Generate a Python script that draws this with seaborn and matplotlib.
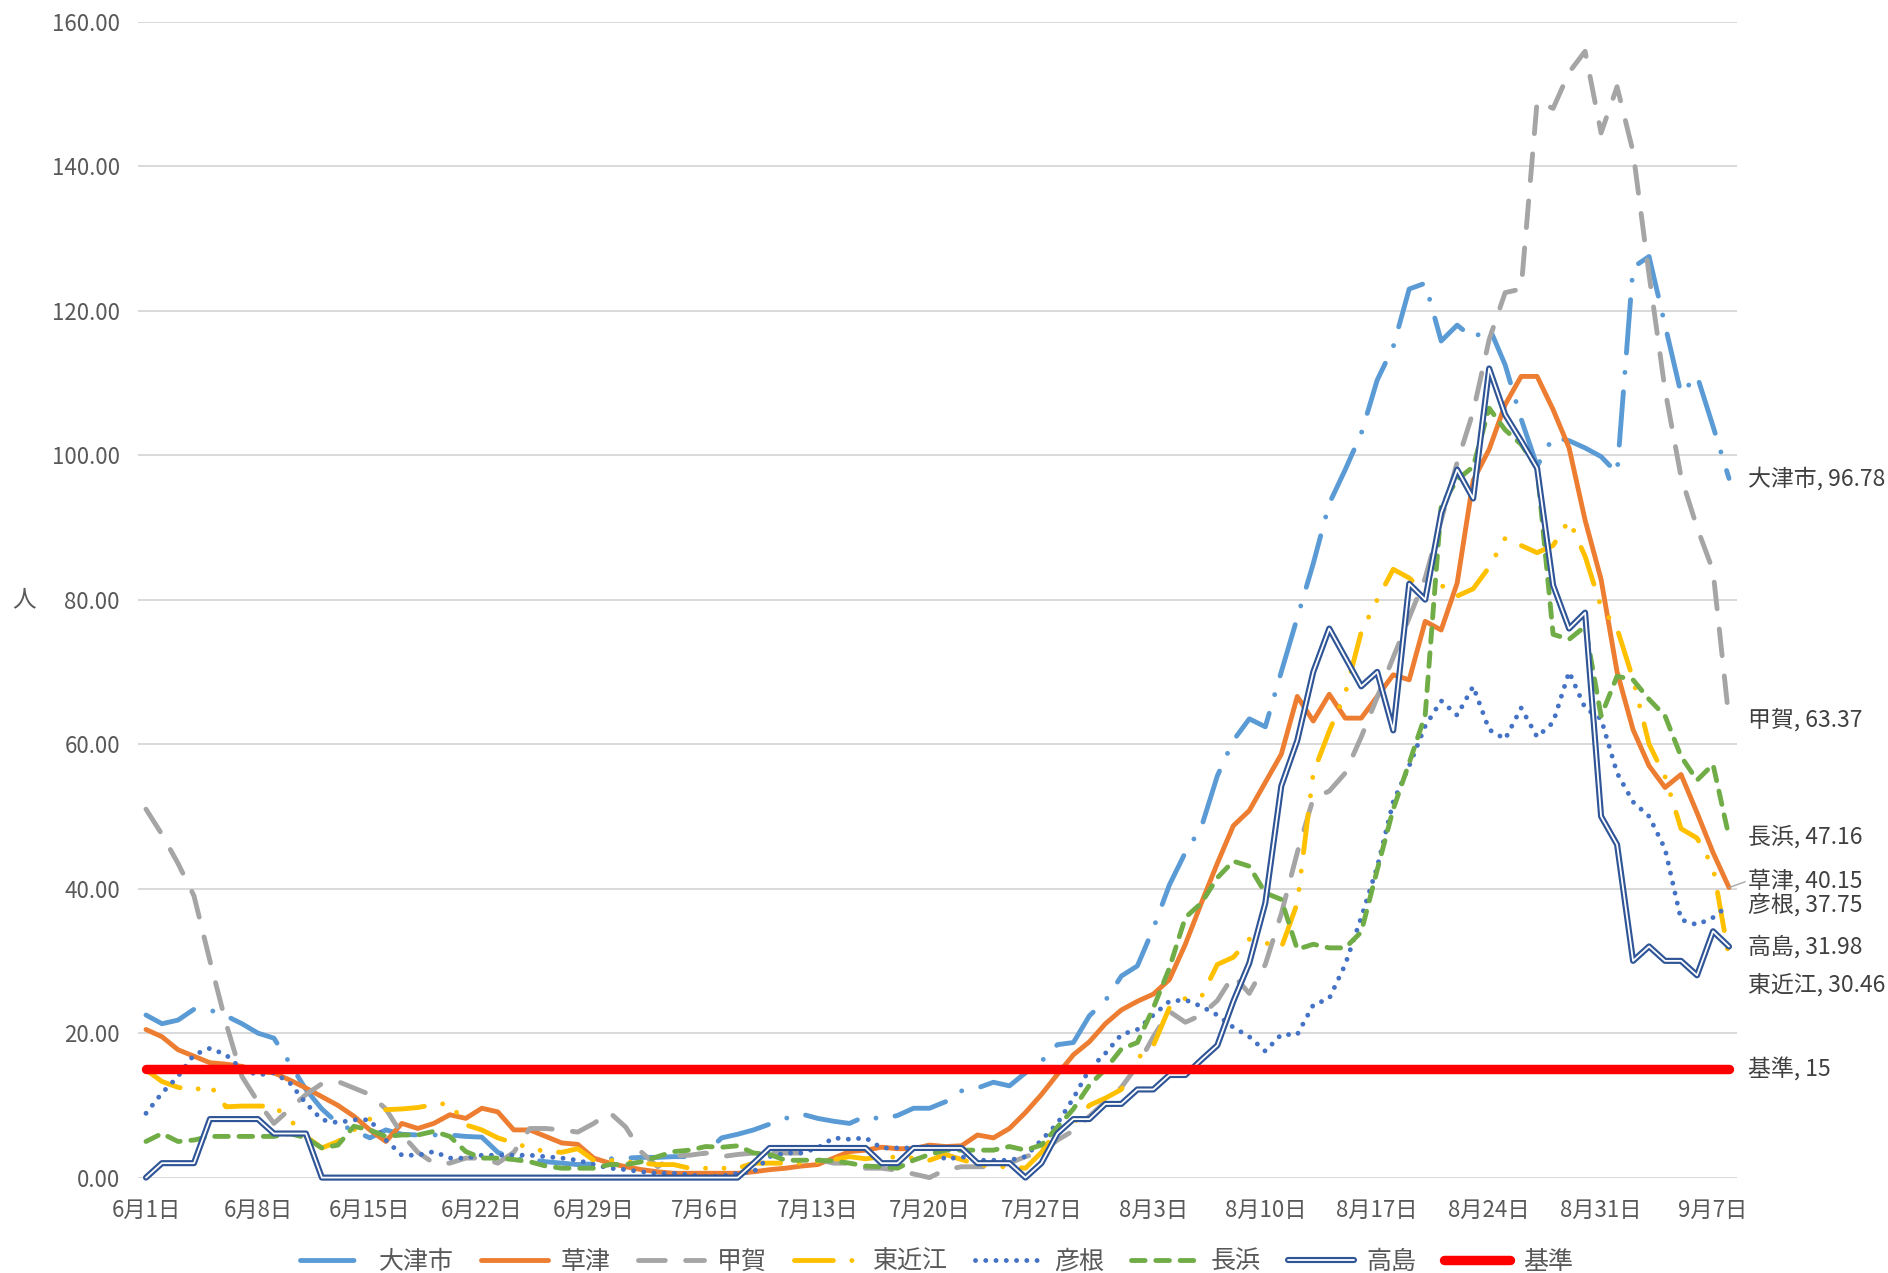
import pandas as pd
import matplotlib
matplotlib.use("Agg")
import matplotlib.pyplot as plt
import matplotlib.patheffects as pe
import seaborn as sns

# --- data (人口10万人あたり直近1週間の新規陽性者数, 6/1 - 9/8) ---
dates = pd.date_range("2021-06-01", "2021-09-08", freq="D")
tick_labels = ["6月1日", "6月8日", "6月15日", "6月22日", "6月29日", "7月6日", "7月13日",
               "7月20日", "7月27日", "8月3日", "8月10日", "8月17日", "8月24日", "8月31日", "9月7日"]

otsu = [22.5, 21.3, 21.8, 23.3, 23.2, 22.4, 21.3, 20.0, 19.3, 15.8,
        12.2, 9.5, 7.5, 6.5, 5.5, 6.6, 6.0, 5.9, 5.9, 5.9,
        5.7, 5.6, 3.5, 2.6, 2.5, 2.2, 2.0, 1.8, 1.9, 2.6,
        2.7, 2.8, 2.8, 2.9, 2.9, 3.4, 5.5, 6.0, 6.6, 7.4,
        8.2, 8.8, 8.2, 7.8, 7.5, 8.5, 8.1, 8.6, 9.6, 9.6,
        10.5, 12.0, 12.4, 13.2, 12.7, 14.5, 16.1, 18.4, 18.7, 22.4,
        24.5, 27.9, 29.3, 34.5, 40.5, 45.0, 48.5, 55.6, 60.5, 63.5,
        62.4, 70.0, 77.5, 85.0, 93.3, 98.0, 103.0, 110.4, 115.0, 123.0,
        123.8, 115.8, 118.0, 116.2, 117.7, 112.5, 105.0, 98.5, 102.5, 102.0,
        101.0, 99.8, 97.5, 126.0, 127.5, 118.0, 108.5, 111.0, 104.0, 96.78]

kusatsu = [20.5, 19.5, 17.7, 16.8, 15.9, 15.7, 15.4, 14.7, 14.5, 13.5,
           12.4, 11.2, 10.0, 8.5, 6.6, 5.0, 7.5, 6.8, 7.5, 8.7,
           8.2, 9.6, 9.1, 6.6, 6.6, 5.7, 4.8, 4.6, 2.7, 2.0,
           1.5, 1.1, 0.8, 0.6, 0.6, 0.6, 0.6, 0.6, 0.8, 1.1,
           1.3, 1.6, 1.8, 2.7, 3.6, 3.8, 4.2, 4.0, 4.0, 4.5,
           4.3, 4.4, 5.9, 5.5, 6.8, 9.0, 11.5, 14.3, 17.0, 18.8,
           21.3, 23.2, 24.4, 25.4, 27.4, 32.3, 38.0, 43.5, 48.7, 50.8,
           54.7, 58.6, 66.6, 63.2, 66.9, 63.6, 63.6, 66.6, 69.6, 68.9,
           77.0, 75.8, 82.3, 96.5, 100.8, 107.0, 110.9, 110.9, 106.3, 101.0,
           91.0, 82.8, 70.0, 62.0, 57.0, 54.0, 55.8, 50.5, 45.0, 40.15]

koka = [51.0, 47.5, 43.5, 39.0, 30.0, 21.4, 14.0, 10.5, 7.5, 9.5,
        11.5, 13.0, 13.3, 12.4, 11.5, 9.5, 6.0, 3.5, 2.0, 2.0,
        2.7, 2.7, 2.0, 3.5, 6.8, 6.8, 6.6, 6.3, 7.5, 9.0,
        7.0, 3.5, 1.5, 3.0, 3.1, 3.4, 2.9, 3.2, 3.4, 3.4,
        3.4, 3.4, 2.5, 2.0, 2.0, 1.3, 1.3, 1.0, 0.5, 0.0,
        1.1, 1.5, 1.5, 1.5, 2.0, 2.9, 3.5, 5.2, 6.5, 8.5,
        10.5, 12.5, 15.5, 19.5, 23.0, 21.5, 22.5, 24.5, 28.0, 25.5,
        29.5, 36.5, 45.0, 52.5, 53.5, 56.0, 61.0, 66.5, 72.0, 77.5,
        83.0, 91.0, 99.0, 106.0, 116.0, 122.5, 123.0, 149.0, 148.0, 153.0,
        155.9, 144.6, 151.0, 142.0, 125.0, 109.0, 97.0, 90.0, 84.0, 63.37]

higashiomi = [14.9, 13.3, 12.5, 12.1, 12.8, 9.8, 9.9, 9.9, 9.9, 8.0,
              5.7, 4.1, 5.0, 6.6, 8.1, 9.4, 9.5, 9.7, 10.1, 10.3,
              7.3, 6.6, 5.5, 4.8, 4.1, 3.6, 3.5, 4.0, 2.4, 2.4,
              2.2, 2.0, 1.8, 1.8, 1.3, 1.3, 1.3, 1.3, 2.0, 2.0,
              2.0, 2.0, 2.2, 2.5, 2.9, 2.6, 2.9, 2.8, 2.7, 2.4,
              3.2, 2.5, 1.8, 1.5, 1.5, 1.3, 3.5, 6.7, 7.5, 10.0,
              11.0, 12.2, 16.5, 18.3, 23.5, 24.8, 25.0, 29.5, 30.5, 33.0,
              32.5, 31.8, 38.0, 56.0, 61.8, 67.0, 75.5, 80.0, 84.2, 83.0,
              81.0, 82.0, 80.5, 81.5, 84.5, 88.5, 87.5, 86.5, 87.5, 91.0,
              86.0, 79.0, 76.0, 69.0, 60.0, 55.5, 48.3, 47.0, 43.0, 30.46]

hikone = [8.9, 11.7, 14.0, 17.0, 17.9, 17.0, 15.0, 14.2, 14.5, 13.1,
          10.3, 8.0, 7.6, 8.0, 8.0, 5.2, 3.1, 3.1, 3.6, 2.7,
          2.7, 3.1, 3.1, 3.1, 3.1, 2.9, 2.7, 2.4, 1.8, 1.3,
          1.1, 0.8, 0.6, 0.6, 0.4, 0.1, 0.2, 0.6, 0.8, 2.9,
          3.4, 3.4, 4.1, 5.5, 5.3, 5.5, 4.1, 4.1, 4.1, 4.3,
          2.5, 2.9, 2.4, 2.4, 2.4, 2.9, 5.2, 7.5, 11.0, 15.0,
          17.2, 19.8, 20.5, 22.5, 24.4, 24.6, 23.7, 22.5, 20.8, 19.5,
          17.5, 19.8, 19.8, 23.9, 24.8, 29.5, 36.0, 43.0, 52.0, 57.0,
          62.5, 66.0, 64.0, 68.0, 62.0, 60.7, 65.0, 61.0, 63.0, 70.0,
          65.0, 63.5, 56.0, 52.0, 50.0, 45.5, 35.7, 35.0, 36.0, 37.75]

nagahama = [5.0, 6.1, 5.0, 5.2, 5.7, 5.7, 5.7, 5.7, 5.7, 6.1,
            5.5, 4.1, 4.5, 7.1, 6.6, 5.7, 5.9, 5.9, 6.4, 5.7,
            3.6, 2.7, 2.7, 2.5, 2.2, 1.6, 1.3, 1.3, 1.3, 1.8,
            1.8, 2.2, 2.9, 3.6, 3.8, 4.3, 4.2, 4.4, 3.4, 3.2,
            2.4, 2.4, 2.4, 2.3, 2.0, 1.6, 1.5, 1.3, 2.4, 3.2,
            3.8, 3.8, 3.8, 3.8, 4.3, 3.8, 4.5, 7.0, 9.5, 12.8,
            15.0, 17.8, 18.7, 23.5, 29.0, 36.0, 38.0, 41.5, 43.8, 43.1,
            39.4, 38.5, 31.6, 32.3, 31.8, 31.8, 34.0, 42.6, 51.0, 57.4,
            64.0, 93.0, 96.6, 98.4, 106.5, 103.5, 101.5, 98.2, 75.2, 74.5,
            76.3, 63.9, 69.4, 68.9, 66.2, 63.9, 58.3, 55.0, 57.2, 47.16]

takashima = [0.0, 2.0, 2.0, 2.0, 8.1, 8.1, 8.1, 8.1, 6.1, 6.1,
             6.1, 0.0, 0.0, 0.0, 0.0, 0.0, 0.0, 0.0, 0.0, 0.0,
             0.0, 0.0, 0.0, 0.0, 0.0, 0.0, 0.0, 0.0, 0.0, 0.0,
             0.0, 0.0, 0.0, 0.0, 0.0, 0.0, 0.0, 0.0, 2.0, 4.1,
             4.1, 4.1, 4.1, 4.1, 4.1, 4.1, 2.0, 2.0, 4.1, 4.1,
             4.1, 4.1, 2.0, 2.0, 2.0, 0.0, 2.0, 6.1, 8.1, 8.1,
             10.2, 10.2, 12.2, 12.2, 14.2, 14.2, 16.3, 18.3, 24.4, 29.7,
             38.0, 54.2, 60.5, 70.0, 76.0, 72.0, 68.0, 70.0, 61.9, 82.2,
             80.0, 92.0, 98.0, 94.0, 112.0, 105.6, 102.0, 98.2, 82.0, 76.0,
             78.2, 50.0, 46.1, 30.0, 32.0, 30.0, 30.0, 28.0, 34.1, 31.98]

kijun = 15

# --- style ---
sns.set_style("white")
plt.rcParams["font.family"] = ["Noto Sans CJK JP", "DejaVu Sans"]

W, H = 1888, 1273
LW = 3.5
TXT = "#595959"

series = [
    ("大津市", otsu, dict(color="#5B9BD5", lw=LW, ls=(0, (11, 4, 0.01, 4)), dash_capstyle="round")),
    ("草津", kusatsu, dict(color="#ED7D31", lw=LW, ls="-", solid_joinstyle="round")),
    ("甲賀", koka, dict(color="#A5A5A5", lw=LW, ls=(0, (5.5, 4.2)), dash_capstyle="round")),
    ("東近江", higashiomi, dict(color="#FFC000", lw=LW, ls=(0, (8, 3.8, 0.01, 3.8, 0.01, 3.8)), dash_capstyle="round")),
    ("彦根", hikone, dict(color="#4472C4", lw=LW, ls=(0, (0.01, 2.1)), dash_capstyle="round")),
    ("長浜", nagahama, dict(color="#70AD47", lw=LW, ls=(0, (2.8, 2.2)), dash_capstyle="round")),
    ("高島", takashima, dict(color="white", lw=1.3, ls="-",
                           path_effects=[pe.Stroke(linewidth=4.4, foreground="#2F5597"), pe.Normal()])),
    ("基準", [kijun] * len(dates), dict(color="#FF0000", lw=6.8, ls="-", solid_capstyle="round")),
]

fig = plt.figure(figsize=(W / 100, H / 100), dpi=100)
ax = fig.add_axes([138 / W, 1 - 1177.6 / H, (1737 - 138) / W, (1177.6 - 21.7) / H])

days = list(range(len(dates)))
for name, vals, kw in series:
    sns.lineplot(x=days, y=vals, ax=ax, label=name, errorbar=None, clip_on=False, **kw)

ax.set_xlim(-0.5, len(dates) - 0.5)
ax.set_ylim(0, 160)
ax.set_xticks(list(range(0, len(dates), 7)))
ax.set_xticklabels(tick_labels)
ax.set_yticks(range(0, 161, 20))
ax.set_yticklabels([f"{v:.2f}" for v in range(0, 161, 20)])
ax.tick_params(axis="both", length=0, labelsize=16, colors=TXT)
ax.tick_params(axis="x", pad=15)
ax.tick_params(axis="y", pad=13)
ax.set_xlabel("")
ax.set_ylabel("")
ax.yaxis.grid(True, color="#D9D9D9", lw=1.4)
ax.xaxis.grid(False)
for sp in ax.spines.values():
    sp.set_visible(False)

fig.text(24 / W, 1 - 600 / H, "人", ha="center", va="center", fontsize=17, color=TXT)

# end-of-line data labels (name, value)
label_nudge = {"草津": 5, "東近江": -20}
last = len(dates) - 1
for name, vals, kw in series:
    dy = label_nudge.get(name, 0)
    arrow = None
    if name == "草津":
        arrow = dict(arrowstyle="-", color="#A6A6A6", lw=1, shrinkA=0, shrinkB=0, relpos=(0, 0.5))
    ax.annotate(f"{name}, {vals[last]:g}", xy=(last, vals[last]), xytext=(14, dy),
                textcoords="offset points", ha="left", va="center", fontsize=16.5,
                color="#404040", arrowprops=arrow, annotation_clip=False)

handles, labels = ax.get_legend_handles_labels()
ax.legend(handles[:8], labels[:8], loc="center", bbox_to_anchor=(0.496, 0.009),
          bbox_transform=fig.transFigure, ncol=8, frameon=False, fontsize=18,
          handlelength=2.65, columnspacing=1.1, handletextpad=0.5, labelcolor=TXT)

fig.savefig("out.png", dpi=100)
